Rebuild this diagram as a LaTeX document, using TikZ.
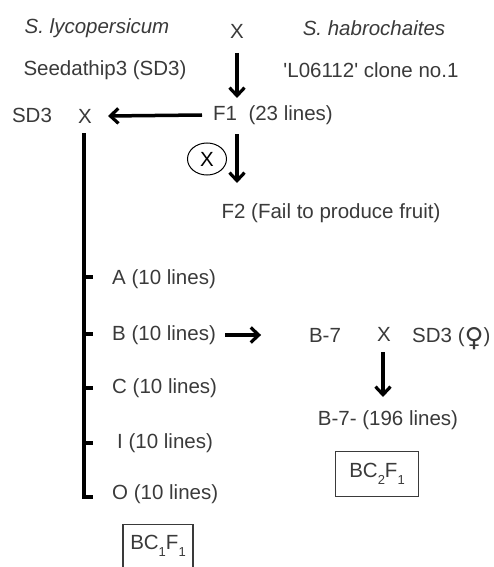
\documentclass[tikz,border=0pt]{standalone}
\usepackage{fontspec}
\setmainfont{Liberation Sans}
\newfontfamily\symfont{DejaVu Sans}
\usetikzlibrary{arrows.meta,shapes.geometric}
\definecolor{txt}{HTML}{3a3a3a}
\begin{document}
\begin{tikzpicture}[x=1pt,y=-1pt,
  lbl/.style={inner sep=0pt,text=txt,font=\fontsize{20.5}{24}\selectfont,anchor=center},
  lbw/.style={lbl,anchor=west},
  arr/.style={line width=3.5pt,-{Straight Barb[length=8pt,width=15pt,line width=3.2pt]}},
  bar/.style={line width=3.5pt},
  boxed/.style={lbl,draw=txt,line width=1.2pt,inner sep=0pt}]
\useasboundingbox (0,0) rectangle (493,567);
\newcommand{\sbs}[1]{\raisebox{-0.6ex}{\fontsize{13}{14}\selectfont #1}}
% top cross
\node[lbl] (sl) at (97,28) {\itshape S. lycopersicum};
\node[lbl] (x1) at (237,31) {X};
\node[lbl] (sh) at (374,28) {\itshape S. habrochaites};
\node[lbl] (sd3a) at (105,70) {Seedathip3 (SD3)};
\node[lbl] (lo) at (371,70) {\textquotesingle L06112\textquotesingle\ clone no.1};
\node[lbw] (f1) at (213,115) {F1\ \ (23 lines)};
\node[lbl] (sd3b) at (32,115) {SD3};
\node[lbl] (x2) at (85,116) {X};
\coordinate (ta) at (237,53);
\coordinate (tb) at (237,98);
\draw[arr] (ta) -- (tb);
\draw[arr] ([xshift=-11pt]f1.west) -- ([xshift=16pt]x2.east);
% selfing
\node[draw=black,line width=1pt,ellipse,minimum width=39pt,minimum height=32pt,inner sep=0pt,font=\fontsize{20.5}{24}\selectfont] (self) at (207,159) {X};
\coordinate (sa) at (237,134);
\coordinate (sb) at (237,183);
\draw[arr] (sa) -- (sb);
\node[lbl] (f2) at (331,213) {F2 (Fail to produce fruit)};
% backcross lines
\node[lbw] (A) at (112,279) {A (10 lines)};
\node[lbw] (B) at (112,335) {B (10 lines)};
\node[lbw] (C) at (112,388) {C (10 lines)};
\node[lbw] (I) at (117,443) {I (10 lines)};
\node[lbw] (O) at (112,494) {O (10 lines)};
\coordinate (vt) at (84,133);
\coordinate (vb) at (84,497);
\coordinate (ve) at (93,497);
\draw[bar] (vt) -- (vb) -- (ve);
\foreach \n/\y in {A/277,B/334,C/388,I/443}{
  \coordinate (\n t) at (84,\y);
  \draw[bar] (\n t) -- ++(9,0);
}
\node[boxed,minimum width=70pt,minimum height=43pt] (bc1) at (158,546) {BC\sbs{1}F\sbs{1}};
% second cross
\node[lbl] (b7) at (325,335) {B-7};
\node[lbl] (x3) at (384,334) {X};
\node[lbl,anchor=base west] (sd3c) at (412,342.5) {SD3 (\raisebox{-0.35ex}{\symfont\bfseries\fontsize{26}{26}\selectfont ♀})};
\draw[arr] ([xshift=9pt]B.east) -- ([xshift=45pt]B.east);
\coordinate (da) at (383,352);
\coordinate (db) at (383,397);
\draw[arr] (da) -- (db);
\node[lbl] (b7l) at (388,420) {B-7- (196 lines)};
\node[boxed,minimum width=83pt,minimum height=45pt] (bc2) at (377,474) {BC\sbs{2}F\sbs{1}};
\end{tikzpicture}
\end{document}
